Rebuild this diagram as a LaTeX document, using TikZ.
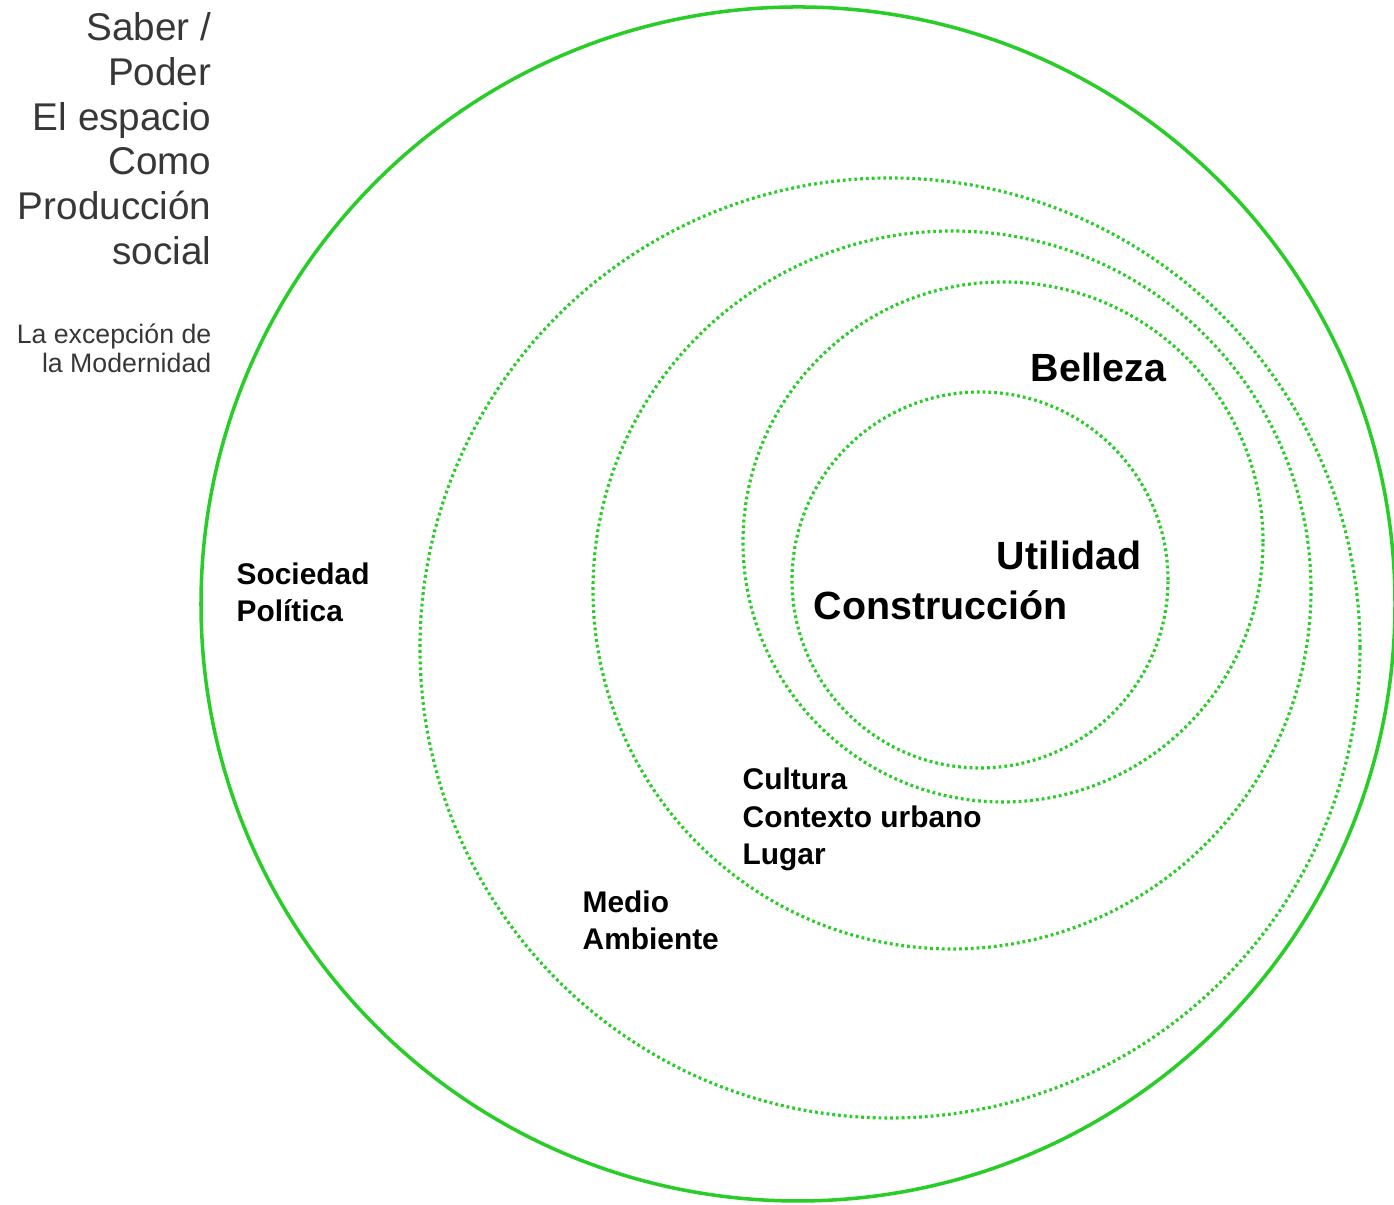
\documentclass[tikz,border=0pt]{standalone}
\usepackage{fontspec}
\setmainfont{Liberation Sans}
\usepackage{tikz}
\usetikzlibrary{positioning}
\definecolor{ringgreen}{RGB}{40,205,40}
\definecolor{titlegray}{RGB}{55,55,55}
\tikzset{
    %Define style for the rings
    ring/.style={
           draw=ringgreen,
           line width=1pt},
    dotring/.style={
           draw=ringgreen,
           line width=0.9pt,
           dash pattern=on 0.8pt off 0.85pt},
    %Define style for the texts
    titel/.style={
           align=right,
           inner sep=0pt,
           text=titlegray,
           font=\fontsize{11}{12.8}\selectfont},
    subtitel/.style={
           align=right,
           inner sep=0pt,
           text=titlegray,
           font=\fontsize{7.6}{8.5}\selectfont},
    lbl/.style={
           align=left,
           inner sep=0pt,
           font=\bfseries\fontsize{8.5}{10.7}\selectfont},
    biglbl/.style={
           inner sep=0pt,
           font=\bfseries\fontsize{11.2}{14.2}\selectfont}
}

\begin{document}
\begin{tikzpicture}
\useasboundingbox (0,0) rectangle (13.94,12.05);
 %rings
\draw[ring] (7.98,6.01) circle (5.97);
\draw[dotring] (8.90,5.57) circle (4.70);
\draw[dotring] (9.52,6.15) circle (3.59);
\draw[dotring] (10.03,6.63) circle (2.60);
\draw[dotring] (9.80,6.25) circle (1.88);
 %texts (base = last line)
\node[titel, anchor=base east](saber) at (2.12,9.40)
  {Saber /\\Poder\\El espacio\\Como\\Producción\\social};
\node[subtitel, anchor=base east](excep) at (2.12,8.32)
  {La excepción de\\la Modernidad};
\node[lbl, anchor=base west](soc) at (2.36,5.83) {Sociedad\\Política};
\node[biglbl, anchor=base west](bel) at (10.30,8.23) {Belleza};
\node[biglbl, anchor=base east](util) at (11.42,6.35) {Utilidad};
\node[biglbl, anchor=base west](cons) at (8.13,5.85) {Construcción};
\node[lbl, anchor=base west](cult) at (7.42,3.40) {Cultura\\Contexto urbano\\Lugar};
\node[lbl, anchor=base west](medio) at (5.82,2.55) {Medio\\Ambiente};
\end{tikzpicture}
\end{document}
